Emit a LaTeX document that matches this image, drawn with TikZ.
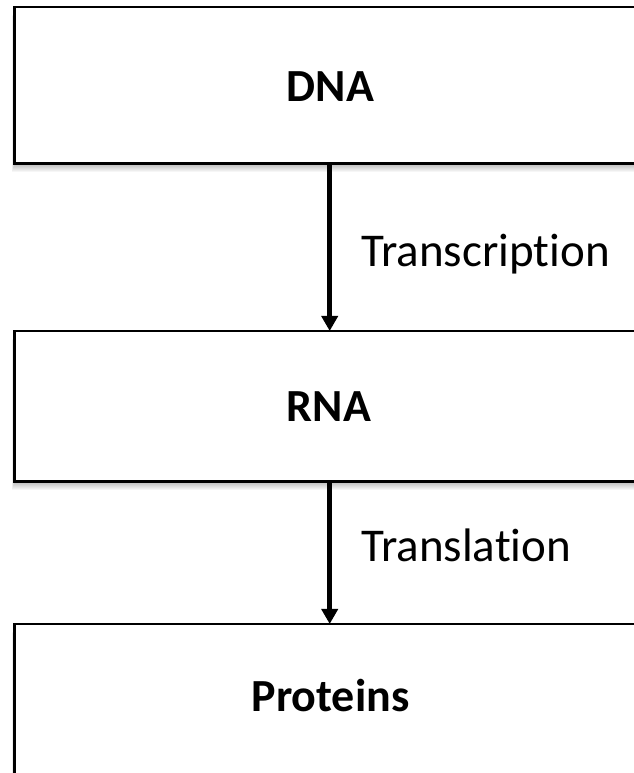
\documentclass[tikz,border=0pt]{standalone}
\usepackage{fontspec}
\setmainfont{Carlito}[Ligatures=NoCommon]
\usetikzlibrary{arrows.meta,backgrounds}
\begin{document}
\begin{tikzpicture}[x=1pt,y=1pt,
  stage/.style={fill=white, rectangle, outer sep=0pt, inner sep=0pt,
    anchor=north west, minimum width=690pt},
  rim/.style={draw=black, line width=2.6pt, line join=miter},
  stagename/.style={font=\fontsize{46}{50}\selectfont\bfseries, inner sep=0pt, anchor=base},
  steplabel/.style={font=\fontsize{47}{52}\selectfont, inner sep=0pt, anchor=base west},
  flow/.style={line width=5pt, -{Triangle[width=16pt,length=15pt]}},
  shade/.style={fill=black, opacity=0.035},
]
\useasboundingbox (0,0) rectangle (633,773);

% the three stages, left aligned, running past the right edge
\node[stage, minimum height=156.5pt] (dna) at (14.7,766) {};
\node[stage, minimum height=150.5pt] (rna) at (14.7,442) {};
\node[stage, minimum height=199pt] (prot) at (14.7,149) {};

% their outlines, open on the far right
\foreach \b in {dna,rna,prot}{
  \draw[rim] (\b.north east) -- (\b.north west) -- (\b.south west) -- (\b.south east);
}

% soft shadow below and left of each stage
\begin{pgfonlayer}{background}
  \foreach \b in {dna,rna,prot}{
    \foreach \k in {1,...,8}{
      \fill[shade] ([shift={(-0.35*\k,-1.1*\k)}]\b.south west)
        rectangle ([shift={(0,-1.1*\k)}]\b.north east);
    }
  }
\end{pgfonlayer}

% stage names
\node[stagename] (dnatext) at (330.5,671) {DNA};
\node[stagename] (rnatext) at (329,351) {RNA};
\node[stagename] (prottext) at (330.5,61) {Proteins};

% vertical axis of the arrows
\coordinate (spine) at (329.7,0);

\draw[flow] (dna.south -| spine) -- (rna.north -| spine);
\draw[flow] (rna.south -| spine) -- (prot.north -| spine);

% process labels
\node[steplabel] (transcription) at (361,506) {Transcription};
\node[steplabel] (translation) at (361,211) {Translation};
\end{tikzpicture}
\end{document}
